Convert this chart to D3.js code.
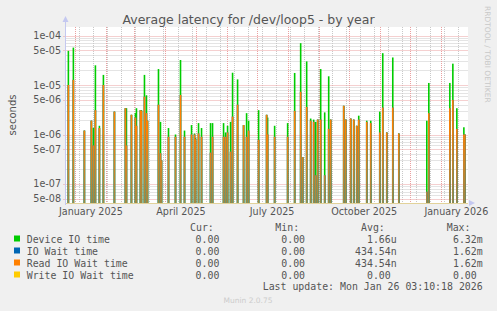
<!DOCTYPE html>
<html>
<head>
<meta charset="utf-8">
<script src="https://cdn.jsdelivr.net/npm/d3@7"></script>
<style>
body { margin: 0; background: #f0f0f0; }
text { font-family: "DejaVu Sans", sans-serif; fill: #555; }
.mono { font-family: "DejaVu Sans Mono", monospace; font-size: 9.9px; white-space: pre; }
</style>
</head>
<body>
<svg id="chart" width="497" height="311"></svg>
<script>
// spike days (one sample per day, everything else is 0)
const spikeDates = ["2024-12-25","2024-12-30","2025-01-10","2025-01-17","2025-01-19","2025-01-21","2025-01-25","2025-01-29",
    "2025-02-09","2025-02-20","2025-02-21","2025-02-26","2025-03-02","2025-03-03","2025-03-07","2025-03-08","2025-03-11",
    "2025-03-13","2025-03-14","2025-03-25","2025-03-27","2025-03-28","2025-04-04","2025-04-11","2025-04-16","2025-04-20",
    "2025-04-27","2025-04-30","2025-05-01","2025-05-04","2025-05-07","2025-05-16","2025-05-18","2025-05-29","2025-05-31",
    "2025-06-02","2025-06-05","2025-06-07","2025-06-12","2025-06-18","2025-06-21","2025-06-23","2025-07-03","2025-07-11",
    "2025-07-12","2025-07-19","2025-08-01","2025-08-08","2025-08-14","2025-08-16","2025-08-20","2025-08-24","2025-08-27",
    "2025-08-29","2025-08-31","2025-09-03","2025-09-07","2025-09-11","2025-09-13","2025-09-26","2025-09-28","2025-10-03",
    "2025-10-06","2025-10-09","2025-10-11","2025-10-19","2025-10-23","2025-11-01","2025-11-04","2025-11-08","2025-11-14",
    "2025-11-20","2025-12-18","2025-12-20","2026-01-10","2026-01-13","2026-01-17","2026-01-24","2026-01-25"];

const deviceIoTime = [4.9e-5,5.7e-5,1.2e-6,1.9e-6,1.36e-6,2.5e-5,1.5e-6,1.6e-5,
    2.9e-6,3.4e-6,3.4e-6,2.5e-6,2.7e-6,3.4e-6,3.1e-6,3.1e-6,1.6e-5,
    6.2e-6,1.9e-6,2.1e-5,1.8e-6,3e-7,1.35e-6,1.0e-6,3.2e-5,1.2e-6,
    1.55e-6,1.05e-6,8.5e-7,1.7e-6,1.35e-6,1.7e-6,1.7e-6,1.7e-6,1.1e-6,
    1.5e-6,1.8e-6,1.77e-5,1.3e-5,1.55e-6,2.7e-6,1.9e-6,3.1e-6,2.5e-6,
    2.2e-6,1.5e-6,1.7e-6,1.75e-5,7.0e-5,3.5e-7,3.0e-5,2.1e-6,2.0e-6,
    1.8e-6,2.0e-6,2.1e-5,2.8e-6,1.5e-5,2.0e-6,3.8e-6,2.0e-6,2.1e-6,
    2.0e-6,1.5e-6,2.4e-6,1.9e-6,1.9e-6,2.9e-6,4.4e-5,1.1e-6,3.6e-5,
    1.05e-6,1.9e-6,1.1e-5,1.1e-5,2.7e-5,3.4e-6,1.4e-6,1.0e-6];

const readIoWaitTime = [1.0e-5,1.27e-5,1.2e-6,1.9e-6,6e-7,3.1e-6,1.35e-6,1.0e-5,
    2.9e-6,3.4e-6,6e-7,2.5e-6,2.2e-6,1.5e-6,3.1e-6,3.0e-6,5.8e-6,
    2.7e-6,1.9e-6,4.0e-6,4.2e-7,3e-7,9e-7,9e-7,6.3e-6,9e-7,
    1.0e-6,1.0e-6,8e-7,1.05e-6,9e-7,4.3e-7,9e-7,9e-7,9e-7,
    1.1e-6,4.5e-7,2.3e-6,4.0e-6,1.55e-6,9e-7,1.2e-6,7.8e-7,2.5e-6,
    1.0e-6,9e-7,9e-7,3.0e-6,7.3e-6,3.5e-7,3.6e-6,1.9e-6,1.8e-6,
    1.5e-7,2.0e-6,2.0e-6,1.5e-7,1.3e-6,2.0e-6,3.8e-6,2.0e-6,2.1e-6,
    2.0e-6,1.5e-6,2.0e-6,1.8e-6,1.7e-6,1.1e-6,3.5e-6,1.1e-6,3.5e-6,
    1.05e-6,7e-8,2.7e-6,3.4e-6,5.0e-6,1.3e-6,1.0e-6,1.0e-6];

// IO wait is identical to read IO wait (write IO wait stays 0)
const ioWaitTime = readIoWaitTime;

const yTicks = [1e-4, 5e-5, 1e-5, 5e-6, 1e-6, 5e-7, 1e-7, 5e-8];
const yTickLabels = ["1e-04", "5e-05", "1e-05", "5e-06", "1e-06", "5e-07", "1e-07", "5e-08"];
const yMinorTicks = [2,3,4,6,7,8,9].flatMap(m => [1e-8, 1e-7, 1e-6, 1e-5, 1e-4].map(p => m * p));

const xLabelDates = ["2025-01-01", "2025-04-01", "2025-07-01", "2025-10-01", "2026-01-01"];
const xLabels = ["January 2025", "April 2025", "July 2025", "October 2025", "January 2026"];

const seriesNames = ["Device IO time", "IO Wait time", "Read IO Wait time", "Write IO Wait time"];
const seriesColors = ["#00cc00", "#0066b3", "#ff8000", "#ffcc00"];
const curValues = ["0.00 ", "0.00 ", "0.00 ", "0.00 "];
const minValues = ["0.00 ", "0.00 ", "0.00 ", "0.00 "];
const avgValues = ["1.66u", "434.54n", "434.54n", "0.00 "];
const maxValues = ["6.32m", "1.62m", "1.62m", "0.00 "];

const parseDate = d3.timeParse("%Y-%m-%d");
const startTime = new Date(2024, 11, 22, 3, 10, 18);
const endTime = new Date(2026, 0, 26, 3, 10, 18);

const plot = {left: 65.5, right: 466, top: 27, bottom: 203};

const svg = d3.select('#chart');

const xScale = d3.scaleTime()
    .domain([startTime, endTime])
    .range([plot.left, plot.right]);

const yScale = d3.scaleLog()
    .domain([Math.pow(10, -7.384), Math.pow(10, -3.828)])
    .range([plot.bottom, plot.top]);

// gradient used for the orange spikes (they look brownish near the floor)
const grad = svg.append('defs').append('linearGradient')
    .attr('id', 'readGrad')
    .attr('gradientUnits', 'userSpaceOnUse')
    .attr('x1', 0).attr('x2', 0)
    .attr('y1', 130).attr('y2', plot.bottom);
grad.append('stop').attr('offset', '0%').attr('stop-color', '#ff8000');
grad.append('stop').attr('offset', '40%').attr('stop-color', '#d98420');
grad.append('stop').attr('offset', '100%').attr('stop-color', '#a08844');

// plot background
svg.append('rect')
    .attr('x', plot.left)
    .attr('y', plot.top)
    .attr('width', plot.right - plot.left + 2)
    .attr('height', plot.bottom - plot.top)
    .attr('fill', '#ffffff');

// title
svg.append('text')
    .attr('x', 248.5)
    .attr('y', 24)
    .attr('text-anchor', 'middle')
    .style('font-size', '12.5px')
    .text('Average latency for /dev/loop5 - by year');

// side watermark
svg.append('text')
    .attr('transform', 'translate(485,6) rotate(90)')
    .style('font-size', '7.5px')
    .style('fill', '#c8c8c8')
    .text('RRDTOOL / TOBI OETIKER');

// y label
svg.append('text')
    .attr('transform', 'translate(16,115) rotate(-90)')
    .attr('text-anchor', 'middle')
    .style('font-size', '10px')
    .text('seconds');

const grid = svg.append('g');

// minor horizontal grid
grid.selectAll('.hminor')
    .data(yMinorTicks.filter(v => yScale(v) > plot.top && yScale(v) < plot.bottom))
    .enter()
    .append('line')
    .attr('x1', plot.left).attr('x2', plot.right + 2)
    .attr('y1', d => Math.round(yScale(d)) + 0.5)
    .attr('y2', d => Math.round(yScale(d)) + 0.5)
    .attr('stroke', '#c8c8c8')
    .attr('stroke-dasharray', '1,1');

// minor vertical grid (every other sunday)
const minorDays = d3.range(0, 30)
    .map(i => d3.timeDay.offset(new Date(2024, 11, 22), 14 * i))
    .filter(d => d > startTime && d < endTime);
grid.selectAll('.vminor')
    .data(minorDays)
    .enter()
    .append('line')
    .attr('x1', d => Math.round(xScale(d)) + 0.5)
    .attr('x2', d => Math.round(xScale(d)) + 0.5)
    .attr('y1', plot.top).attr('y2', plot.bottom)
    .attr('stroke', '#c8c8c8')
    .attr('stroke-dasharray', '1,1');

// major horizontal grid
grid.selectAll('.hmajor')
    .data(yTicks)
    .enter()
    .append('line')
    .attr('x1', plot.left - 2).attr('x2', plot.right + 2)
    .attr('y1', d => Math.round(yScale(d)) + 0.5)
    .attr('y2', d => Math.round(yScale(d)) + 0.5)
    .attr('stroke', '#eaa0a0')
    .attr('stroke-dasharray', '1,1');

// major vertical grid (months)
const months = d3.timeMonth.range(startTime, endTime);
grid.selectAll('.vmajor')
    .data(months)
    .enter()
    .append('line')
    .attr('x1', d => Math.round(xScale(d)) + 0.5)
    .attr('x2', d => Math.round(xScale(d)) + 0.5)
    .attr('y1', plot.top).attr('y2', plot.bottom + 2)
    .attr('stroke', '#eaa0a0')
    .attr('stroke-dasharray', '1,1');

// y tick labels
svg.selectAll('.ylab')
    .data(yTicks)
    .enter()
    .append('text')
    .attr('x', 61)
    .attr('y', d => yScale(d) + 3.5)
    .attr('text-anchor', 'end')
    .style('font-size', '9.6px')
    .text((d, i) => yTickLabels[i]);

// x labels (centred half a month after the quarter start)
svg.selectAll('.xlab')
    .data(xLabelDates)
    .enter()
    .append('text')
    .attr('x', d => xScale(parseDate(d)) + 15.5)
    .attr('y', 215)
    .attr('text-anchor', 'middle')
    .style('font-size', '9.6px')
    .text((d, i) => xLabels[i]);

const spikes = spikeDates.map((d, i) => ({
    date: parseDate(d),
    device: deviceIoTime[i],
    ioWait: ioWaitTime[i],
    read: readIoWaitTime[i]
}));

const marks = svg.append('g');
const spikeW = 1.6;

// device IO time
marks.selectAll('.dev')
    .data(spikes)
    .enter()
    .append('rect')
    .attr('x', d => xScale(d.date) - spikeW / 2)
    .attr('width', spikeW)
    .attr('y', d => yScale(d.device))
    .attr('height', d => plot.bottom - yScale(d.device))
    .attr('fill', seriesColors[0]);

// IO wait time (same as read, covered by it)
marks.selectAll('.iow')
    .data(spikes)
    .enter()
    .append('rect')
    .attr('x', d => xScale(d.date) - spikeW / 2)
    .attr('width', spikeW)
    .attr('y', d => yScale(d.ioWait))
    .attr('height', d => plot.bottom - yScale(d.ioWait))
    .attr('fill', seriesColors[1]);

// read IO wait time
marks.selectAll('.read')
    .data(spikes)
    .enter()
    .append('rect')
    .attr('x', d => xScale(d.date) - spikeW / 2)
    .attr('width', spikeW)
    .attr('y', d => yScale(d.read))
    .attr('height', d => plot.bottom - yScale(d.read))
    .attr('fill', 'url(#readGrad)');

// write IO wait time is 0 all year -> sits on the floor
svg.append('line')
    .attr('x1', plot.left).attr('x2', plot.right + 2)
    .attr('y1', plot.bottom + 0.5).attr('y2', plot.bottom + 0.5)
    .attr('stroke', '#e2d29a');

// axes with arrows
const axisColor = '#c4c8f0';
svg.append('line')
    .attr('x1', plot.left).attr('x2', plot.left)
    .attr('y1', plot.bottom + 2).attr('y2', 20)
    .attr('stroke', axisColor);
svg.append('path')
    .attr('d', `M${plot.left - 3},22 L${plot.left + 3},22 L${plot.left},16 Z`)
    .attr('fill', axisColor);
svg.append('path')
    .attr('d', `M${plot.right + 3},${plot.bottom - 3} L${plot.right + 3},${plot.bottom + 3} L${plot.right + 9},${plot.bottom} Z`)
    .attr('fill', axisColor);

// legend
const legend = svg.append('g');

const headers = [["Cur:", 190], ["Min:", 275.3], ["Avg:", 361], ["Max:", 446.7]];
headers.forEach(h => {
    legend.append('text')
        .attr('class', 'mono')
        .attr('x', h[1])
        .attr('y', 231)
        .text(h[0]);
});

seriesNames.forEach((name, i) => {
    const y = 243 + i * 12;
    legend.append('rect')
        .attr('x', 14)
        .attr('y', y - 7.5)
        .attr('width', 6)
        .attr('height', 6)
        .attr('fill', seriesColors[i]);

    legend.append('text')
        .attr('class', 'mono')
        .attr('x', 26.7)
        .attr('y', y)
        .text(name);

    [[curValues, 225.3], [minValues, 311], [avgValues, 396.7], [maxValues, 482.7]].forEach(col => {
        legend.append('text')
            .attr('class', 'mono')
            .attr('x', col[1])
            .attr('y', y)
            .attr('text-anchor', 'end')
            .text(col[0][i]);
    });
});

legend.append('text')
    .attr('class', 'mono')
    .attr('x', 482.7)
    .attr('y', 290)
    .attr('text-anchor', 'end')
    .text('Last update: Mon Jan 26 03:10:18 2026');

svg.append('text')
    .attr('x', 248)
    .attr('y', 303)
    .attr('text-anchor', 'middle')
    .style('font-size', '7.5px')
    .style('fill', '#cccccc')
    .text('Munin 2.0.75');
</script>
</body>
</html>
